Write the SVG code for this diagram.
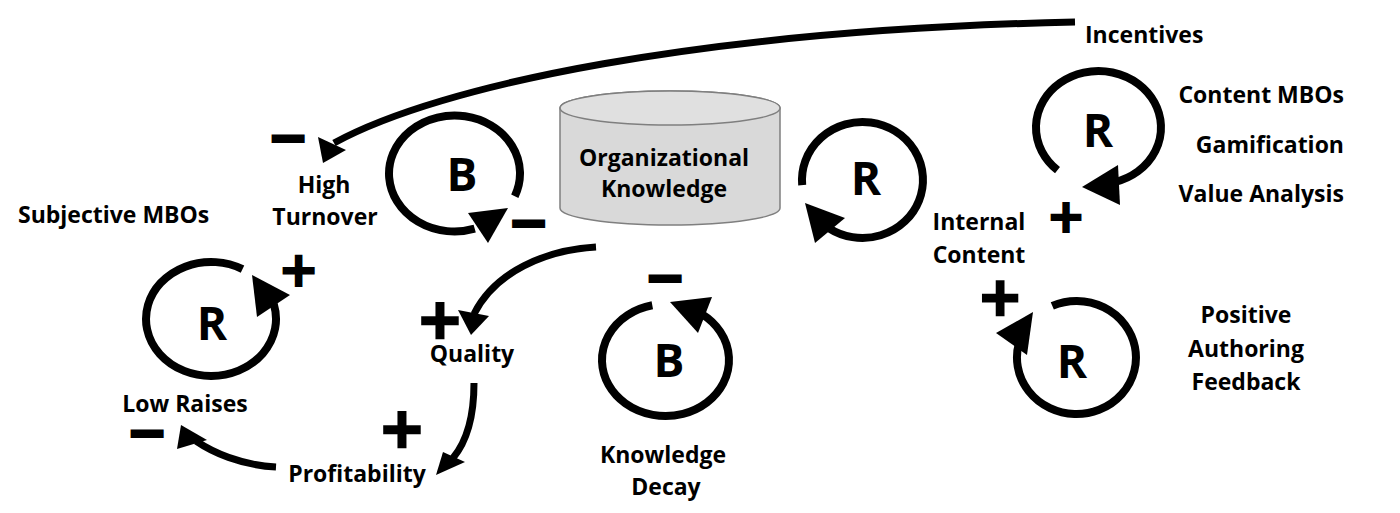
<svg xmlns="http://www.w3.org/2000/svg" width="1400" height="513" viewBox="0 0 1400 513">
<style>
.lbl{font-family:"Open Sans","Liberation Sans",sans-serif;font-weight:700;font-size:23px;fill:#000}
.ltr{font-family:"Open Sans","Liberation Sans",sans-serif;font-weight:700;font-size:46px;fill:#000;text-anchor:middle}
.sgn{font-family:"DejaVu Sans",sans-serif;font-weight:700;fill:#000;stroke:#000;text-anchor:middle}
.loop{fill:none;stroke:#000;stroke-width:8}
.conn{fill:none;stroke:#000;stroke-width:7}
.head{fill:#000;stroke:none}
.mid{text-anchor:middle}
.end{text-anchor:end}
</style>
<rect width="1400" height="513" fill="#fff"/>

<g id="connectors">
<path class="conn" d="M1075,22 C700,30 440,85 334,143"/>
<polygon class="head" points="323,163 318,137 346,150"/>
<path class="conn" d="M596,247 C545,250 495,272 474,314"/>
<polygon class="head" points="471,335 458,310 489,316"/>
<path class="conn" d="M474,383 C474,415 468,440 453,458"/>
<polygon class="head" points="436,475 443,452 465,462"/>
<path class="conn" d="M276,467 C240,465 212,452 196,441"/>
<polygon class="head" points="181,425 177,449 207,440"/>
</g>

<g id="organizational-knowledge">
<path d="M560,108 A110,17 0 0 1 780,108 V208 A110,17 0 0 1 560,208 Z" fill="#d9d9d9" stroke="#7f7f7f" stroke-width="1.5"/>
<ellipse cx="670" cy="108" rx="110" ry="17" fill="#e0e0e0" stroke="#7f7f7f" stroke-width="1.5"/>
<text class="lbl mid" x="664" y="166">Organizational</text>
<text class="lbl mid" x="664" y="197">Knowledge</text>
</g>

<g id="loop-b1">
<path class="loop" d="M514.8,196.2 A65.5,58 0 1 0 474.7,228.7"/>
<polygon class="head" points="468,213 508,208 488,243"/>
<text class="ltr" x="462" y="191">B</text>
<text class="sgn" x="528.5" y="239" font-size="48" stroke-width="3">−</text>
</g>

<g id="loop-b2">
<path class="loop" d="M652.3,305.2 A63.5,56 0 1 0 701.9,314.1"/>
<polygon class="head" points="670,302 712,297 698,333"/>
<text class="ltr" x="669" y="377">B</text>
<text class="sgn" x="665" y="294" font-size="48" stroke-width="3">−</text>
</g>

<g id="loop-r1">
<path class="loop" d="M242.5,269.1 A65,57 0 1 0 273.8,304.2"/>
<polygon class="head" points="252,275 290,295 257,317"/>
<text class="ltr" x="212" y="340">R</text>
<text class="sgn" x="298.5" y="286" font-size="48" stroke-width="2">+</text>
</g>

<g id="loop-r2">
<path class="loop" d="M802.2,185.1 A60.5,58 0 1 1 828.7,228.1"/>
<polygon class="head" points="805,203 845,218 815,243"/>
<text class="ltr" x="866" y="195">R</text>
</g>

<g id="loop-r3">
<path class="loop" d="M1057.5,170.2 A62.5,56.5 0 1 1 1114.7,182.1"/>
<polygon class="head" points="1082,187 1118,165 1120,205"/>
<text class="ltr" x="1098" y="147">R</text>
<text class="sgn" x="1066" y="232" font-size="46" stroke-width="2">+</text>
</g>

<g id="loop-r4">
<path class="loop" d="M1052.3,305.9 A59.5,56.5 0 1 1 1019.0,342.9"/>
<polygon class="head" points="1033,312 996,333 1027,355"/>
<text class="ltr" x="1072" y="378">R</text>
<text class="sgn" x="1000" y="315" font-size="54" stroke-width="2.5">+</text>
</g>

<g id="incentives">
<text class="lbl" x="1085" y="43">Incentives</text>
<text class="lbl end" x="1344" y="103">Content MBOs</text>
<text class="lbl end" x="1344" y="153">Gamification</text>
<text class="lbl end" x="1344" y="202">Value Analysis</text>
</g>

<g id="internal-content">
<text class="lbl mid" x="979" y="230">Internal</text>
<text class="lbl mid" x="979" y="263">Content</text>
</g>

<g id="positive-authoring-feedback">
<text class="lbl mid" x="1246" y="323">Positive</text>
<text class="lbl mid" x="1246" y="357">Authoring</text>
<text class="lbl mid" x="1246" y="390">Feedback</text>
</g>

<g id="subjective-mbos">
<text class="lbl" x="18" y="223">Subjective MBOs</text>
</g>

<g id="high-turnover">
<text class="lbl mid" x="324" y="193">High</text>
<text class="lbl mid" x="325" y="225">Turnover</text>
<text class="sgn" x="288" y="154" font-size="48" stroke-width="3">−</text>
</g>

<g id="low-raises">
<text class="lbl mid" x="185" y="412">Low Raises</text>
<text class="sgn" x="147" y="449" font-size="48" stroke-width="3">−</text>
</g>

<g id="quality">
<text class="lbl mid" x="472" y="362">Quality</text>
<text class="sgn" x="440" y="338" font-size="56" stroke-width="2.5">+</text>
</g>

<g id="profitability">
<text class="lbl mid" x="357" y="482">Profitability</text>
<text class="sgn" x="402" y="447" font-size="56" stroke-width="2.5">+</text>
</g>

<g id="knowledge-decay">
<text class="lbl mid" x="663" y="463">Knowledge</text>
<text class="lbl mid" x="666" y="495">Decay</text>
</g>
</svg>
